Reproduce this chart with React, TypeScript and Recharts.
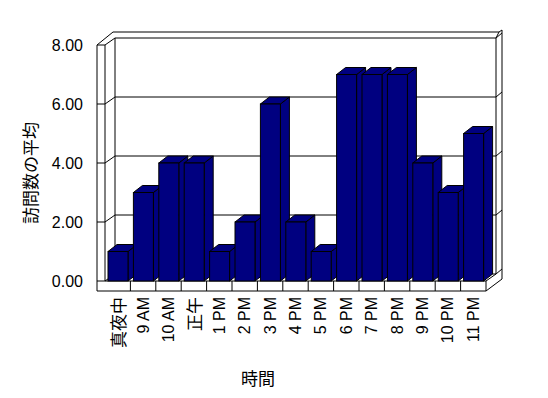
import React from 'react';
import { BarChart, Bar, XAxis, YAxis, CartesianGrid } from 'recharts';

const hours = ['真夜中', '9 AM', '10 AM', '正午', '1 PM', '2 PM', '3 PM', '4 PM', '5 PM', '6 PM', '7 PM', '8 PM', '9 PM', '10 PM', '11 PM'];
const avgVisits = [1, 3, 4, 4, 1, 2, 6, 2, 1, 7, 7, 7, 4, 3, 5];
const yTicks = [0, 2, 4, 6, 8];

const data = hours.map((h, i) => ({ name: h, value: avgVisits[i] }));

// chart frame
const W = 548;
const H = 398;
const PL = 105;
const PT = 45;
const PR = 486;
const PB = 281;
// oblique depth of walls and bars
const DX = 10;
const DY = -7;
const BDX = 9;
const BDY = -7;
const WALL = 8;
const FLOOR = 10;
const OUTER_X = PR + DX + 6;

const FONT = '"Liberation Sans", "Noto Sans CJK JP", sans-serif';
const CJK = '"Noto Sans CJK JP", sans-serif';
const NAVY = '#000080';

const Bar3D = (props: any) => {
  const { x, y, width, height } = props;
  const top = `${x},${y} ${x + width},${y} ${x + width + BDX},${y + BDY} ${x + BDX},${y + BDY}`;
  const side = `${x + width},${y} ${x + width + BDX},${y + BDY} ${x + width + BDX},${y + height + BDY} ${x + width},${y + height}`;
  return (
    <g stroke="#000" strokeWidth={1} fill={NAVY}>
      <polygon points={side} />
      <polygon points={top} />
      <rect x={x} y={y} width={width} height={height} />
    </g>
  );
};

// front tick + diagonal + back wall gridline
const GridRow = (props: any) => {
  const { x1, x2, y1 } = props;
  const by = y1 + DY;
  return (
    <g stroke="#000" strokeWidth={1} fill="none">
      <line x1={x1 - WALL} y1={y1} x2={x1} y2={y1} />
      <line x1={x1} y1={y1} x2={x1 + DX} y2={by} />
      <line x1={x1 + DX} y1={by} x2={x2 + DX} y2={by} />
      <line x1={x2 + DX} y1={by} x2={OUTER_X} y2={by - 5} />
    </g>
  );
};

const XTick = (props: any) => {
  const { x, payload } = props;
  const cjk = /[^\x00-\x7f]/.test(String(payload.value));
  return (
    <text
      transform={`translate(${x},${PB + 16}) rotate(-90)`}
      textAnchor="end"
      dominantBaseline="central"
      fontSize={cjk ? 17 : 16}
      fontFamily={cjk ? CJK : FONT}
      fill="#000000"
    >
      {payload.value}
    </text>
  );
};

const YTick = (props: any) => {
  const { y, payload } = props;
  return (
    <text x={PL - 22} y={y} textAnchor="end" dominantBaseline="central" fontSize={16} fontFamily={FONT} fill="#000">
      {Number(payload.value).toFixed(2)}
    </text>
  );
};

function Walls() {
  const band = (PR - PL) / hours.length;
  const s = { stroke: '#000', strokeWidth: 1, fill: 'none' };
  return (
    <svg width={W} height={H} style={{ position: 'absolute', left: 0, top: 0 }}>
      <g {...s}>
        {/* back wall */}
        <line x1={PL + DX - 2} y1={PT - 13} x2={OUTER_X - 3} y2={PT - 13} />
        <line x1={OUTER_X - 3} y1={PT - 13} x2={OUTER_X} y2={PT - 15} />
        <line x1={OUTER_X} y1={PT - 15} x2={OUTER_X} y2={PB + FLOOR + DY - 5} />
        <line x1={PL + DX} y1={PT + DY} x2={PL + DX} y2={PB + DY} />
        <line x1={PR + DX} y1={PT + DY} x2={PR + DX} y2={PB + DY} />
        <line x1={PR + DX} y1={PT + DY} x2={OUTER_X - 3} y2={PT - 13} />
        {/* left wall */}
        <line x1={PL - WALL} y1={PT} x2={PL - WALL} y2={PB + FLOOR} />
        <line x1={PL} y1={PT} x2={PL} y2={PB} />
        <line x1={PL - WALL} y1={PT} x2={PL + DX - 2} y2={PT - 13} />
        {/* floor */}
        <line x1={PL} y1={PB} x2={PR} y2={PB} />
        <line x1={PL - WALL} y1={PB + FLOOR} x2={PR} y2={PB + FLOOR} />
        <line x1={PR} y1={PB} x2={PR} y2={PB + FLOOR} />
        <line x1={PR} y1={PB + FLOOR} x2={OUTER_X} y2={PB + FLOOR + DY - 5} />
        <line x1={PR} y1={PB} x2={PR + DX} y2={PB + DY} />
        {hours.slice(1).map((h, i) => (
          <line key={h} x1={PL + band * (i + 1)} y1={PB} x2={PL + band * (i + 1)} y2={PB + FLOOR} />
        ))}
      </g>
      <text
        transform="translate(29,173) rotate(-90)"
        textAnchor="middle"
        dominantBaseline="central"
        fontSize={17}
        fontFamily={CJK}
        fill="#000"
      >
        訪問数の平均
      </text>
      <text x={258} y={377} textAnchor="middle" dominantBaseline="central" fontSize={17} fontFamily={CJK} fill="#000">
        時間
      </text>
    </svg>
  );
}

export default function App() {
  return (
    <div style={{ position: 'absolute', left: 0, top: 0, width: W, height: H, background: '#fff' }}>
      <Walls />
      <div style={{ position: 'absolute', left: 0, top: 0 }}>
        <BarChart
          width={W}
          height={H}
          data={data}
          margin={{ top: PT, right: W - PR, bottom: H - PB - 100, left: PL - 50 }}
        >
          <CartesianGrid vertical={false} horizontal={(p: any) => <GridRow key={p.key} {...p} />} />
          <XAxis dataKey="name" interval={0} height={100} axisLine={false} tickLine={false} tick={<XTick />} />
          <YAxis width={50} domain={[0, 8]} ticks={yTicks} axisLine={false} tickLine={false} tick={<YTick />} />
          <Bar dataKey="value" barSize={20} shape={<Bar3D />} isAnimationActive={false} />
        </BarChart>
      </div>
    </div>
  );
}
